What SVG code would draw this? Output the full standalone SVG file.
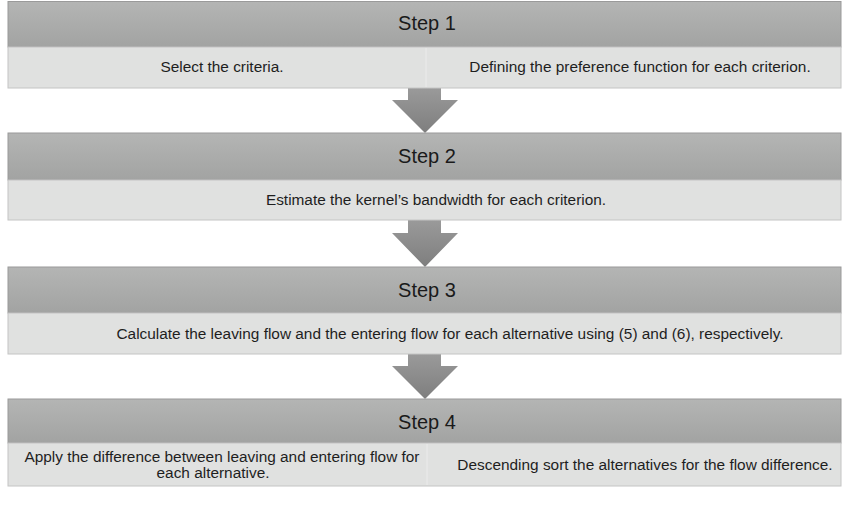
<svg xmlns="http://www.w3.org/2000/svg" width="850" height="507" viewBox="0 0 850 507">
<defs>
<linearGradient id="hdr" x1="0" y1="0" x2="0" y2="1">
<stop offset="0" stop-color="#b4b5b4"/>
<stop offset="1" stop-color="#a2a3a2"/>
</linearGradient>
<linearGradient id="arr" x1="0" y1="0" x2="0" y2="1">
<stop offset="0" stop-color="#9a9a9a"/>
<stop offset="1" stop-color="#7e7e7e"/>
</linearGradient>
</defs>
<style>
.hdr{fill:url(#hdr);stroke:#9a9a9a;stroke-width:1}
.body{fill:#e0e1e0;stroke:#c4c4c4;stroke-width:1}
.div{stroke:#ebebeb;stroke-width:1}
.title{font-family:"Liberation Sans",Arial,sans-serif;font-size:20px;fill:#1a1a1a;text-anchor:middle}
.txt{font-family:"Liberation Sans",Arial,sans-serif;font-size:15.4px;fill:#1e1e1e;text-anchor:middle}
.arrow{fill:url(#arr)}
</style>
<rect width="850" height="507" fill="#ffffff"/>
<g id="connectors">
<polygon class="arrow" points="408,88 441,88 441,100 458,100 425,133 392,100 408,100"/>
<polygon class="arrow" points="408,220 441,220 441,233 458,233 425,267 392,233 408,233"/>
<polygon class="arrow" points="408,354 441,354 441,366 458,366 425,399 392,366 408,366"/>
</g>
<g id="step1">
<rect class="hdr" x="8" y="1.5" width="833" height="45.5"/>
<rect class="body" x="8" y="47" width="833" height="41"/>
<line class="div" x1="426" y1="48" x2="426" y2="87"/>
<text class="title" x="427" y="30">Step 1</text>
<text class="txt" x="222" y="72">Select the criteria.</text>
<text class="txt" x="640" y="72">Defining the preference function for each criterion.</text>
</g>
<g id="step2">
<rect class="hdr" x="8" y="133" width="833" height="47"/>
<rect class="body" x="8" y="180" width="833" height="40"/>
<text class="title" x="427" y="163">Step 2</text>
<text class="txt" x="436" y="205">Estimate the kernel’s bandwidth for each criterion.</text>
</g>
<g id="step3">
<rect class="hdr" x="8" y="267" width="833" height="46"/>
<rect class="body" x="8" y="313" width="833" height="41"/>
<text class="title" x="427" y="297">Step 3</text>
<text class="txt" x="450" y="339">Calculate the leaving flow and the entering flow for each alternative using (5) and (6), respectively.</text>
</g>
<g id="step4">
<rect class="hdr" x="8" y="399" width="833" height="44"/>
<rect class="body" x="8" y="443" width="833" height="43"/>
<line class="div" x1="427" y1="444" x2="427" y2="485"/>
<text class="title" x="427" y="429">Step 4</text>
<text class="txt" x="222" y="461.5">Apply the difference between leaving and entering flow for</text>
<text class="txt" x="213" y="478">each alternative.</text>
<text class="txt" x="645" y="470">Descending sort the alternatives for the flow difference.</text>
</g>
</svg>
